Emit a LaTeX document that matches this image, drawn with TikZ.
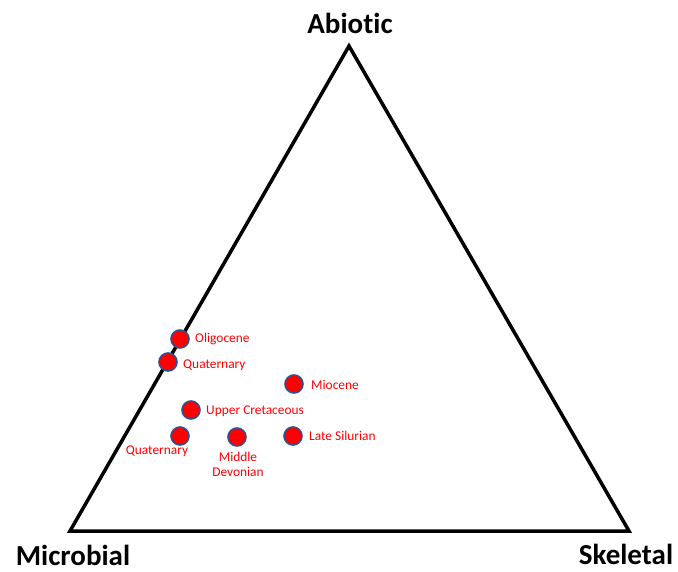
\documentclass[tikz,border=0pt]{standalone}
\usepackage{fontspec}
\setmainfont[Ligatures=NoCommon]{Carlito}
\definecolor{mkedge}{RGB}{47,82,143}
\definecolor{lblred}{RGB}{255,0,0}
\begin{document}
\begin{tikzpicture}[x=1pt,y=-1pt,
  vlabel/.style={font=\fontsize{29}{32}\selectfont\bfseries, text=black, inner sep=0pt},
  marker/.style={circle, fill=red, draw=mkedge, line width=1.6pt, minimum size=18pt, inner sep=0pt},
  plabel/.style={font=\fontsize{13.4}{15}\selectfont, text=lblred, inner sep=0pt, align=center}]
\useasboundingbox (0,0) rectangle (678,571);
\coordinate (A) at (349,46);
\coordinate (M) at (70,531);
\coordinate (S) at (629,531);
\draw[line width=3.5pt, line join=miter] (A) -- (S) -- (M) -- cycle;
\node[vlabel] (abiotic) at (350,23) {Abiotic};
\node[vlabel] (microbial) at (73,555) {Microbial};
\node[vlabel] (skeletal) at (626,554) {Skeletal};
\node[marker] (p1) at (180,339) {};
\node[marker] (p2) at (168,362) {};
\node[marker] (p3) at (294,384) {};
\node[marker] (p4) at (191,410) {};
\node[marker] (p5) at (180,436) {};
\node[marker] (p6) at (237,437) {};
\node[marker] (p7) at (293,436) {};
\node[plabel, anchor=west] (l1) at (195,339) {Oligocene};
\node[plabel, anchor=west] (l2) at (183,365) {Quaternary};
\node[plabel, anchor=west] (l3) at (311,385) {Miocene};
\node[plabel, anchor=west] (l4) at (206,411) {Upper Cretaceous};
\node[plabel] (l5) at (157,451) {Quaternary};
\node[plabel] (l6) at (238,464) {Middle\\Devonian};
\node[plabel, anchor=west] (l7) at (309,436) {Late Silurian};
\end{tikzpicture}
\end{document}
